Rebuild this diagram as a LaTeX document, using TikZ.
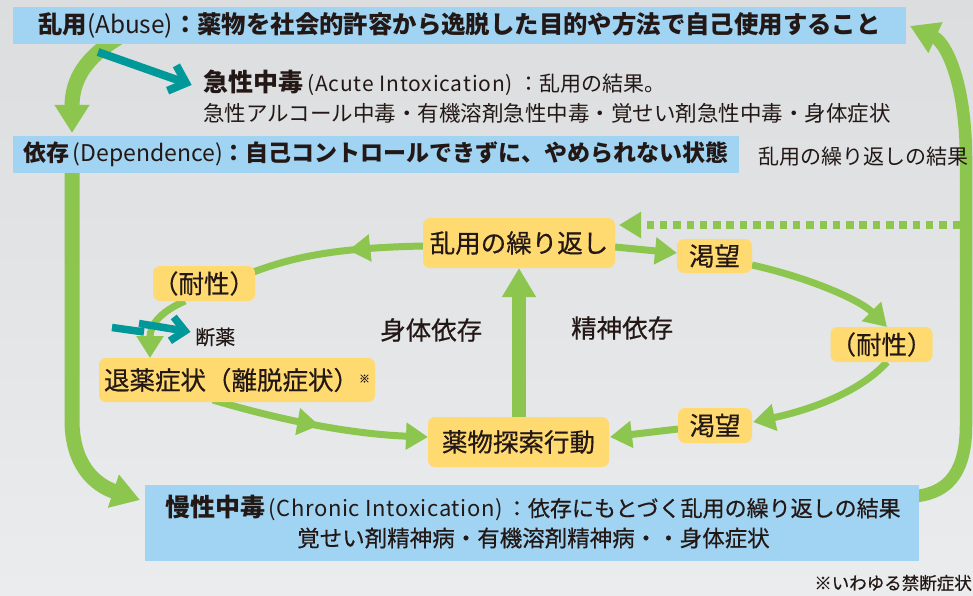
\documentclass[tikz,border=0pt]{standalone}
\usepackage{fontspec}
\setmainfont{Noto Sans CJK JP}
\newfontfamily\medf{Noto Sans CJK JP}[FakeBold=0.5]
\usetikzlibrary{arrows.meta,decorations.markings}
\definecolor{bgtop}{RGB}{219,221,223}
\definecolor{bgbot}{RGB}{234,236,237}
\definecolor{boxblue}{RGB}{160,212,242}
\definecolor{boxyel}{RGB}{255,218,112}
\definecolor{grn}{RGB}{140,198,78}
\definecolor{tealc}{RGB}{0,152,152}
\definecolor{ink}{RGB}{35,24,21}
\newcommand{\fs}[1]{\fontsize{#1}{#1}\selectfont}
\begin{document}
\begin{tikzpicture}[x=1pt,y=-1pt,
  bluebox/.style={fill=boxblue, draw=none, inner sep=0pt, text=ink},
  yelbox/.style={fill=boxyel, draw=none, rounded corners=7pt, inner sep=0pt, text=ink, font=\medf\fs{25.5}},
  txt/.style={inner sep=0pt, text=ink},
  gline/.style={draw=grn, line width=7pt},
  gthin/.style={gline, -{Triangle[length=22pt,width=26pt]}},
  gthick/.style={draw=grn, line width=15pt, -{Triangle[length=28pt,width=33pt]}},
  tealline/.style={draw=tealc, line width=8pt, line join=miter, line cap=butt},
  midtip/.style={postaction={decorate}, decoration={markings, mark=at position #1 with {\arrow{Triangle[length=22pt,width=26pt]}}}},
]
\useasboundingbox (0,0) rectangle (973,596);
\shade[top color=bgtop, bottom color=bgbot] (0,0) rectangle (973,596);

% free end coordinates
\coordinate (a0) at (118,38);
\coordinate (a1) at (72,133);
\coordinate (d0) at (72,170);
\coordinate (d1) at (140,500);
\coordinate (c0) at (900,497);
\coordinate (c1) at (910,26);
\coordinate (dash0) at (960,225);
\coordinate (dash1) at (619,225);
\coordinate (t0) at (98,52);
\coordinate (t1) at (186,83);
\coordinate (t1a) at (176.4,65.4);
\coordinate (t1b) at (167.6,90.7);
\coordinate (z0) at (112,327.5);
\coordinate (z0b) at (144,332);
\coordinate (z1a) at (139,323.5);
\coordinate (z1) at (185,331);
\coordinate (z1u) at (173.7,317);
\coordinate (z1d) at (169.9,340.8);

% big green arrows (behind boxes)
\draw[gthick] (a0) .. controls (85,58) and (72,80) .. (a1);
\draw[gthick] (d0) -- (72,420) .. controls (72,465) and (95,485) .. (d1);
\draw[draw=grn, line width=12.5pt, -{Triangle[length=28pt,width=32pt]}]
  (c0) -- (917,496) .. controls (950,492) and (966,470) .. (966,425) -- (966,160) .. controls (966,80) and (945,42) .. (c1);
\draw[draw=grn, line width=7.5pt, dash pattern=on 7.5pt off 5.8pt, -{Triangle[length=22pt,width=25pt]}] (dash0) -- (dash1);

% blue boxes
\node[bluebox, minimum width=893pt, minimum height=37pt, font=\fs{24.4}] (abuse) at (459.5,25.5)
  {\textbf{乱用}(Abuse)\textbf{：薬物を社会的許容から逸脱した目的や方法で自己使用すること}};
\node[bluebox, minimum width=726pt, minimum height=37pt, font=\fs{23}] (dep) at (376,154.5)
  {\textbf{依存}\hspace{3pt}(Dependence)\textbf{：自己コントロールできずに、やめられない状態}};
\node[bluebox, minimum width=774pt, minimum height=76pt] (chronic) at (531.5,523) {};
\node[txt, font=\fs{22}] (chr1) at (533,508)
  {{\bfseries\fs{25}慢性中毒}\hspace{3pt}{\addfontfeature{LetterSpace=3}(Chronic Intoxication)}\hspace{3pt}{\medf：依存にもとづく乱用の繰り返しの結果}};
\node[txt, font=\medf\fs{22.5}] (chr2) at (533.5,538) {覚せい剤精神病・有機溶剤精神病・・身体症状};

% texts
\node[txt, anchor=west, font=\fs{21}] (acute1) at (203,83)
  {{\bfseries\fs{25}急性中毒}\hspace{4pt}{\addfontfeature{LetterSpace=4}(Acute Intoxication)}\hspace{5pt}：乱用の結果。};
\node[txt, anchor=west, font=\fs{21.5}] (acute2) at (203,113) {急性アルコール中毒・有機溶剤急性中毒・覚せい剤急性中毒・身体症状};
\node[txt, anchor=west, font=\fs{21}] (result) at (758,157) {乱用の繰り返しの結果};
\node[txt, anchor=west, font=\medf\fs{20}] (cut) at (195,337) {断薬};
\node[txt, anchor=west, font=\medf\fs{25.5}] (phys) at (380,330) {身体依存};
\node[txt, anchor=west, font=\medf\fs{25.5}] (psy) at (571,328) {精神依存};
\node[txt, anchor=east, font=\medf\fs{17.5}] (note) at (972,583) {※いわゆる禁断症状};

% loop arrows (drawn before yellow boxes)
\draw[gline, midtip=0.42] (423,246) .. controls (330,248) and (290,258) .. (248,274);
\draw[gthin] (185,301) .. controls (160,312) and (150,325) .. (150,358);
\draw[gthin, midtip=0.5] (213,400) .. controls (280,420) and (350,434) .. (428,437);
\draw[draw=grn, line width=14pt, -{Triangle[length=29pt,width=32pt]}] (519,417) -- (519,268);
\draw[gthin] (615,247) -- (677,253);
\draw[gthin] (752,265) .. controls (810,278) and (860,300) .. (887,327);
\draw[gthin] (887,362) .. controls (860,392) and (810,410) .. (753,422);
\draw[gthin] (678,429) -- (610,437);

% teal arrows
\draw[tealline] (t0) -- (t1);
\draw[tealline] (t1a) -- (t1) -- (t1b);
\draw[draw=tealc, line width=7.5pt, line cap=butt] (z0) -- (z0b);
\draw[draw=tealc, line width=7.5pt, line cap=butt] (z1a) -- (z1);
\draw[tealline, line width=7.5pt] (z1u) -- (z1) -- (z1d);

% yellow boxes
\node[yelbox, minimum width=192pt, minimum height=50pt] (rep) at (519,243) {乱用の繰り返し};
\node[yelbox, minimum width=75pt, minimum height=34pt] (crave1) at (714.5,256) {渇望};
\node[yelbox, minimum width=101pt, minimum height=35pt] (tol1) at (881.5,344.5) {（耐性）};
\node[yelbox, minimum width=74pt, minimum height=35pt] (crave2) at (715,425.5) {渇望};
\node[yelbox, minimum width=181pt, minimum height=50pt] (seek) at (518.5,442) {薬物探索行動};
\node[yelbox, minimum width=102pt, minimum height=35pt] (tol2) at (204,283.5) {（耐性）};
\node[yelbox, minimum width=276pt, minimum height=44pt] (wd) at (237,380) {退薬症状（離脱症状）\raisebox{7pt}{\fs{11}※}};
\end{tikzpicture}
\end{document}
